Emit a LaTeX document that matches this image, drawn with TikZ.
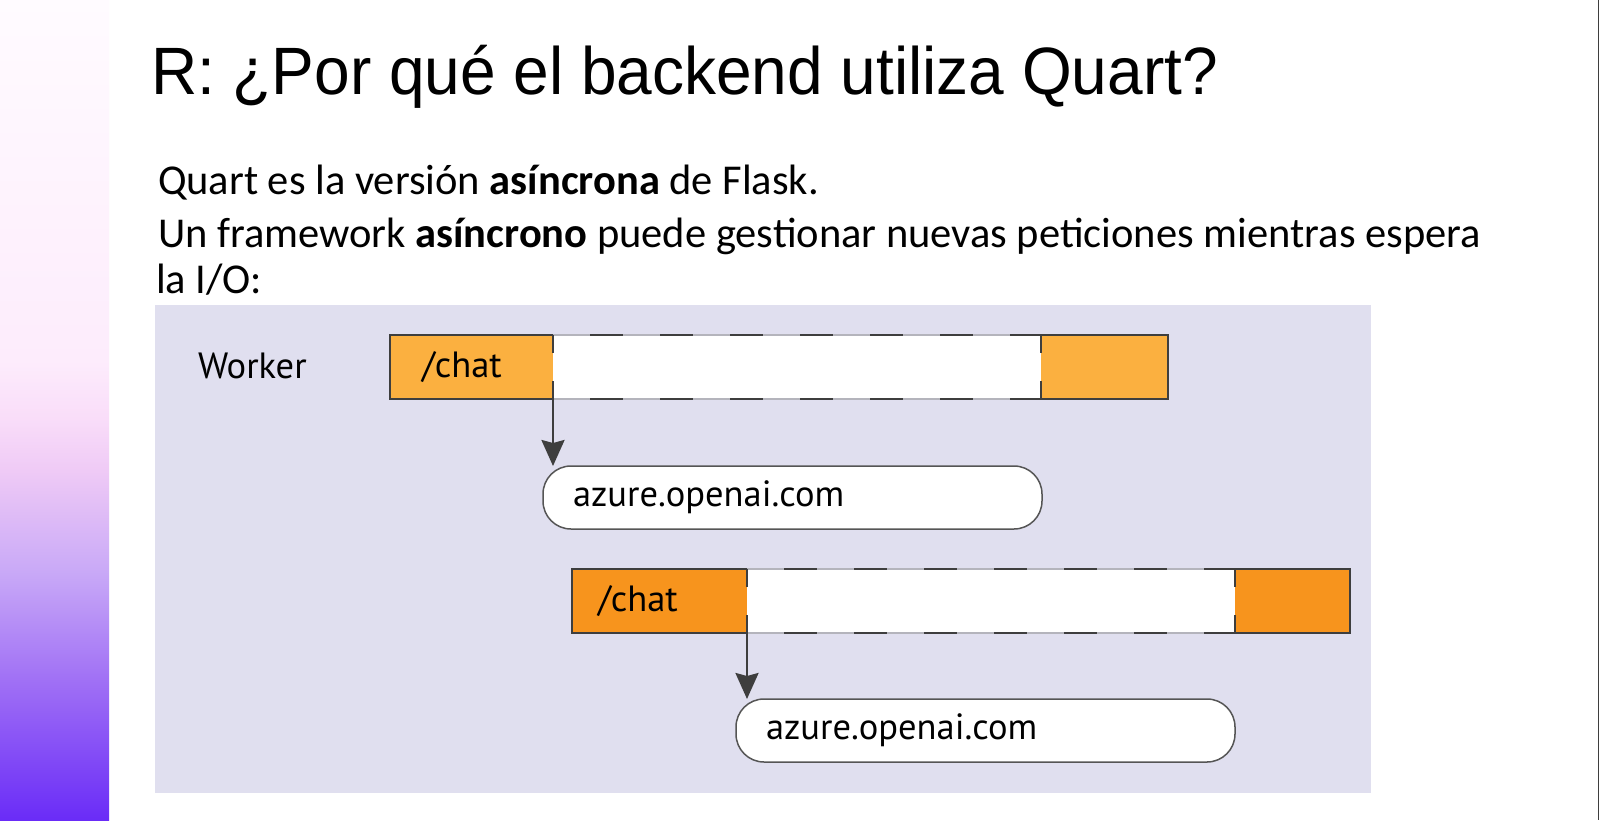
\documentclass[tikz,border=0pt]{standalone}
\usepackage{fontspec}
\setmainfont{Carlito}
\newfontfamily\titlefont[FakeStretch=0.955]{Liberation Sans}
\newfontfamily\diagfont{PT Sans}
\usetikzlibrary{arrows.meta,positioning}

\definecolor{panel}{HTML}{E0DFEF}
\definecolor{orangeA}{HTML}{FBB040}
\definecolor{orangeB}{HTML}{F7941D}
\definecolor{edge}{HTML}{3E3E3E}
\definecolor{gapgray}{HTML}{B4B4BC}
\definecolor{pillgray}{HTML}{555555}
\definecolor{violetA}{HTML}{6A2CF7}
\definecolor{violetB}{HTML}{A070F5}
\definecolor{violetC}{HTML}{C8A8F7}
\definecolor{pinkA}{HTML}{EFCAF6}
\definecolor{pinkB}{HTML}{F9DDF9}
\definecolor{pinkC}{HTML}{FDECFC}
\definecolor{pinkD}{HTML}{FFFBFF}
\pgfdeclareverticalshading{sidebar}{100bp}{color(0bp)=(violetA); color(25bp)=(violetA);
  color(33.5bp)=(violetB); color(40bp)=(violetC); color(46.3bp)=(pinkA);
  color(49.5bp)=(pinkB); color(53bp)=(pinkC); color(75bp)=(pinkD); color(100bp)=(pinkD)}

\begin{document}
\begin{tikzpicture}
  [x=1pt,y=-1pt,>={Stealth[length=26pt,width=23pt,inset=3pt]},
  every node/.style={inner sep=0pt,outer sep=0pt},
  body/.style={anchor=base west,font=\fontsize{42.5}{51}\selectfont},
  bar/.style={minimum height=64pt,font=\diagfont\fontsize{36.5}{44}\selectfont,align=left},
  host/.style={draw=pillgray,line width=1.5pt,fill=white,rounded corners=28pt,
    minimum height=63pt,inner xsep=30pt,text width=439pt,align=left,
    font=\diagfont\fontsize{36.5}{44}\selectfont},
  lane edge/.style={draw=edge,line width=2.5pt},
  gap edge/.style={draw=gapgray,line width=2pt},
  wait edge/.style={draw=edge,line width=2.5pt,dash pattern=on 33pt off 37pt,dash phase=33pt},
  side edge/.style={draw=edge,line width=2.5pt,dash pattern=on 18pt off 28pt}]
  \useasboundingbox (0,0) rectangle (1599,820);
  \fill[white] (0,0) rectangle (1599,820);
  \shade[shading=sidebar] (0,0) rectangle (109,820);
  \draw[edge,line width=1pt] (1598.5,0) -- (1598.5,820);

  % slide text
  \node[anchor=base west,font=\titlefont\fontsize{67}{80}\selectfont] (title) at (151,94)
    {R: ¿Por qué el backend utiliza Quart?};
  \node[body] (line1) at (158,194) {Quart es la versión \textbf{asíncrona} de Flask.};
  \node[body] (line2) at (158,247)
    {Un framework \textbf{asíncrono} puede gestionar nuevas peticiones mientras espera};
  \node[body] (line3) at (156,293) {la I/O:};

  % diagram
  \fill[panel] (155,305) rectangle (1371,793);
  \node[anchor=base west,font=\diagfont\fontsize{36.5}{44}\selectfont] (worker) at (198,378) {Worker};

  \node[bar,fill=orangeA,anchor=north west,inner xsep=32pt,text width=99pt] (chat1) at (390,335) {/chat};
  \node[bar,fill=white,minimum width=488pt,right=0pt of chat1] (wait1) {};
  \node[bar,fill=orangeA,minimum width=127pt,right=0pt of wait1] (done1) {};
  \node[host,anchor=north west] (api1) at (543,466) {azure.openai.com};

  \node[bar,fill=orangeB,anchor=north west,inner xsep=26pt,text width=123pt] (chat2) at (572,569) {/chat};
  \node[bar,fill=white,minimum width=488pt,right=0pt of chat2] (wait2) {};
  \node[bar,fill=orangeB,minimum width=115pt,right=0pt of wait2] (done2) {};
  \node[host,anchor=north west] (api2) at (736,699) {azure.openai.com};

  \draw[lane edge] (chat1.north east) -- (chat1.north west) -- (chat1.south west) -- (chat1.south east);
  \draw[lane edge] (done1.north west) -- (done1.north east) -- (done1.south east) -- (done1.south west);
  \draw[gap edge] (wait1.north west) -- (wait1.north east) (wait1.south west) -- (wait1.south east);
  \draw[wait edge] (wait1.north west) -- (wait1.north east) (wait1.south west) -- (wait1.south east);
  \draw[side edge] (wait1.north west) -- (wait1.south west) (wait1.north east) -- (wait1.south east);

  \draw[lane edge] (chat2.north east) -- (chat2.north west) -- (chat2.south west) -- (chat2.south east);
  \draw[lane edge] (done2.north west) -- (done2.north east) -- (done2.south east) -- (done2.south west);
  \draw[gap edge] (wait2.north west) -- (wait2.north east) (wait2.south west) -- (wait2.south east);
  \draw[wait edge] (wait2.north west) -- (wait2.north east) (wait2.south west) -- (wait2.south east);
  \draw[side edge] (wait2.north west) -- (wait2.south west) (wait2.north east) -- (wait2.south east);

  \draw[->,draw=edge,line width=2.5pt] (chat1.south east) -- (chat1.south east |- api1.north);
  \draw[->,draw=edge,line width=2.5pt] (chat2.south east) -- (chat2.south east |- api2.north);
\end{tikzpicture}
\end{document}
